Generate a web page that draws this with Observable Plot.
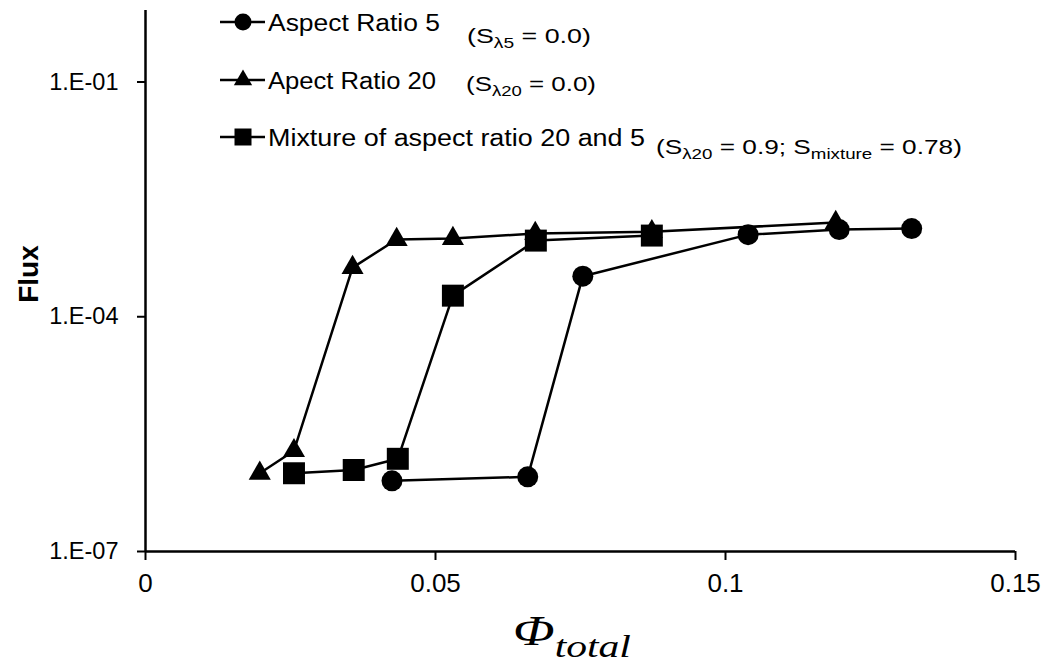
<!DOCTYPE html>
<html><head><meta charset="utf-8">
<script src="https://cdn.jsdelivr.net/npm/d3@7"></script>
<script src="https://cdn.jsdelivr.net/npm/@observablehq/plot@0.6"></script>
<style>
body{margin:0;background:#fff;}
#chart{position:relative;width:1043px;height:667px;}
</style></head><body><div id="chart"></div>
<script>
// Series names (legend)
const seriesNames = ["Aspect Ratio 5", "Apect Ratio 20", "Mixture of aspect ratio 20 and 5"];
// Aspect ratio 5 (circles)
const ar5Phi  = [0.0425, 0.0659, 0.0754, 0.1039, 0.1196, 0.1321];
const ar5Flux = [8.0e-7, 9.0e-7, 3.3e-4, 1.12e-3, 1.30e-3, 1.34e-3];
// Aspect ratio 20 (triangles)
const ar20Phi  = [0.0197, 0.0256, 0.0357, 0.0433, 0.0530, 0.0672, 0.0873, 0.1190];
const ar20Flux = [1.0e-6, 1.94e-6, 4.25e-4, 9.7e-4, 1.0e-3, 1.16e-3, 1.22e-3, 1.6e-3];
// Mixture (squares)
const mixPhi  = [0.0256, 0.0359, 0.0435, 0.0530, 0.0673, 0.0873];
const mixFlux = [1.0e-6, 1.1e-6, 1.53e-6, 1.86e-4, 9.4e-4, 1.09e-3];
// Axis ticks
const xTicks = [0, 0.05, 0.1, 0.15];
const xTickLabels = ["0", "0.05", "0.1", "0.15"];
const yTicks = [1e-7, 1e-4, 1e-1];
const yTickLabels = ["1.E-07", "1.E-04", "1.E-01"];

const toRows = (xs, ys) => xs.map((x, i) => ({x, y: ys[i]}));
const ar5 = toRows(ar5Phi, ar5Flux);
const ar20 = toRows(ar20Phi, ar20Flux);
const mix = toRows(mixPhi, mixFlux);

const lineOpts = {x: "x", y: "y", stroke: "#000", strokeWidth: 2.5};
const plot = Plot.plot({
  width: 1043, height: 667,
  marginLeft: 145, marginRight: 28, marginTop: 10, marginBottom: 116,
  style: {fontFamily: "'Liberation Sans', Arial, sans-serif", fontSize: "22px", color: "#000", background: "#fff"},
  x: {domain: [0, 0.15]},
  y: {type: "log", domain: [1e-7, 0.82]},
  marks: [
    Plot.axisX({ticks: xTicks, tickSize: 9, tickPadding: 13, strokeWidth: 2, fontSize: 26,
      tickFormat: d => xTickLabels[xTicks.indexOf(d)], label: null}),
    Plot.axisY({ticks: yTicks, tickSize: 8, tickPadding: 19, strokeWidth: 2, fontSize: 23.5,
      tickFormat: d => yTickLabels[yTicks.indexOf(d)], label: null}),
    Plot.ruleX([0], {stroke: "#000", strokeWidth: 2.5}),
    Plot.ruleY([1e-7], {stroke: "#000", strokeWidth: 2.5}),
    Plot.line(ar5, lineOpts),
    Plot.line(ar20, lineOpts),
    Plot.line(mix, lineOpts),
    Plot.dot(ar5, {x: "x", y: "y", symbol: "circle", r: 10.5, fill: "#000"}),
    Plot.dot(ar20, {x: "x", y: "y", symbol: "triangle", r: 8.2, fill: "#000"}),
    Plot.dot(mix, {x: "x", y: "y", symbol: "square", r: 12.4, fill: "#000"}),
    Plot.text(["Flux"], {frameAnchor: "left", textAnchor: "middle", rotate: -90, dx: -116, dy: -7,
      fontWeight: "bold", fontSize: 28, fill: "#000"})
  ]
});
document.getElementById("chart").appendChild(plot);

// Legend (inside the plot area, top-left) and x-axis title
const svg = d3.select(plot);
const lg = svg.append("g").attr("font-family", "'Liberation Sans', Arial, sans-serif")
  .attr("fill", "#000").attr("text-anchor", "start");
const legendRows = [
  {name: seriesNames[0], w: 172, sym: d3.symbolCircle, size: Math.PI * 8.5 * 8.5, cy: 22,
   note: [["(S", 0], ["λ5", 1], [" = 0.0)", 0]], nx: 467, ny: 43, nw: 124},
  {name: seriesNames[1], w: 168, sym: d3.symbolTriangle, size: Math.PI * 6.8 * 6.8, cy: 80,
   note: [["(S", 0], ["λ20", 1], [" = 0.0)", 0]], nx: 466, ny: 91, nw: 130},
  {name: seriesNames[2], w: 377, sym: d3.symbolSquare, size: 17 * 17, cy: 137,
   note: [["(S", 0], ["λ20", 1], [" = 0.9; S", 0], ["mixture", 1], [" = 0.78)", 0]], nx: 656, ny: 154, nw: 306}
];
legendRows.forEach(r => {
  lg.append("line").attr("x1", 220).attr("x2", 265).attr("y1", r.cy).attr("y2", r.cy)
    .attr("stroke", "#000").attr("stroke-width", 2.5);
  lg.append("path").attr("d", d3.symbol(r.sym, r.size)()).attr("transform", `translate(243,${r.cy})`);
  lg.append("text").attr("x", 268).attr("y", r.cy + 9).attr("font-size", 23)
    .attr("textLength", r.w).attr("lengthAdjust", "spacingAndGlyphs").text(r.name);
  const t = lg.append("text").attr("x", 0).attr("y", 0).attr("font-size", 21);
  let prevSub = 0;
  r.note.forEach(([s, sub]) => {
    const ts = t.append("tspan").text(s);
    if (sub) ts.attr("font-size", 15);
    const dy = sub === prevSub ? 0 : (sub ? 5 : -5);
    if (dy) ts.attr("dy", dy);
    prevSub = sub;
  });
  const bw = t.node().getComputedTextLength();
  t.attr("transform", `translate(${r.nx},${r.ny}) scale(${r.nw / bw},1)`);
});
const xl = svg.append("text").attr("x", 0).attr("y", 0).attr("text-anchor", "middle")
  .attr("font-family", "'Liberation Serif', 'Times New Roman', serif").attr("font-style", "italic").attr("fill", "#000")
  .attr("transform", "translate(572,645) scale(1.3,1)");
xl.append("tspan").attr("font-size", 42).text("Φ");
xl.append("tspan").attr("font-size", 32).attr("dy", 12).text("total");
</script>
</body></html>
